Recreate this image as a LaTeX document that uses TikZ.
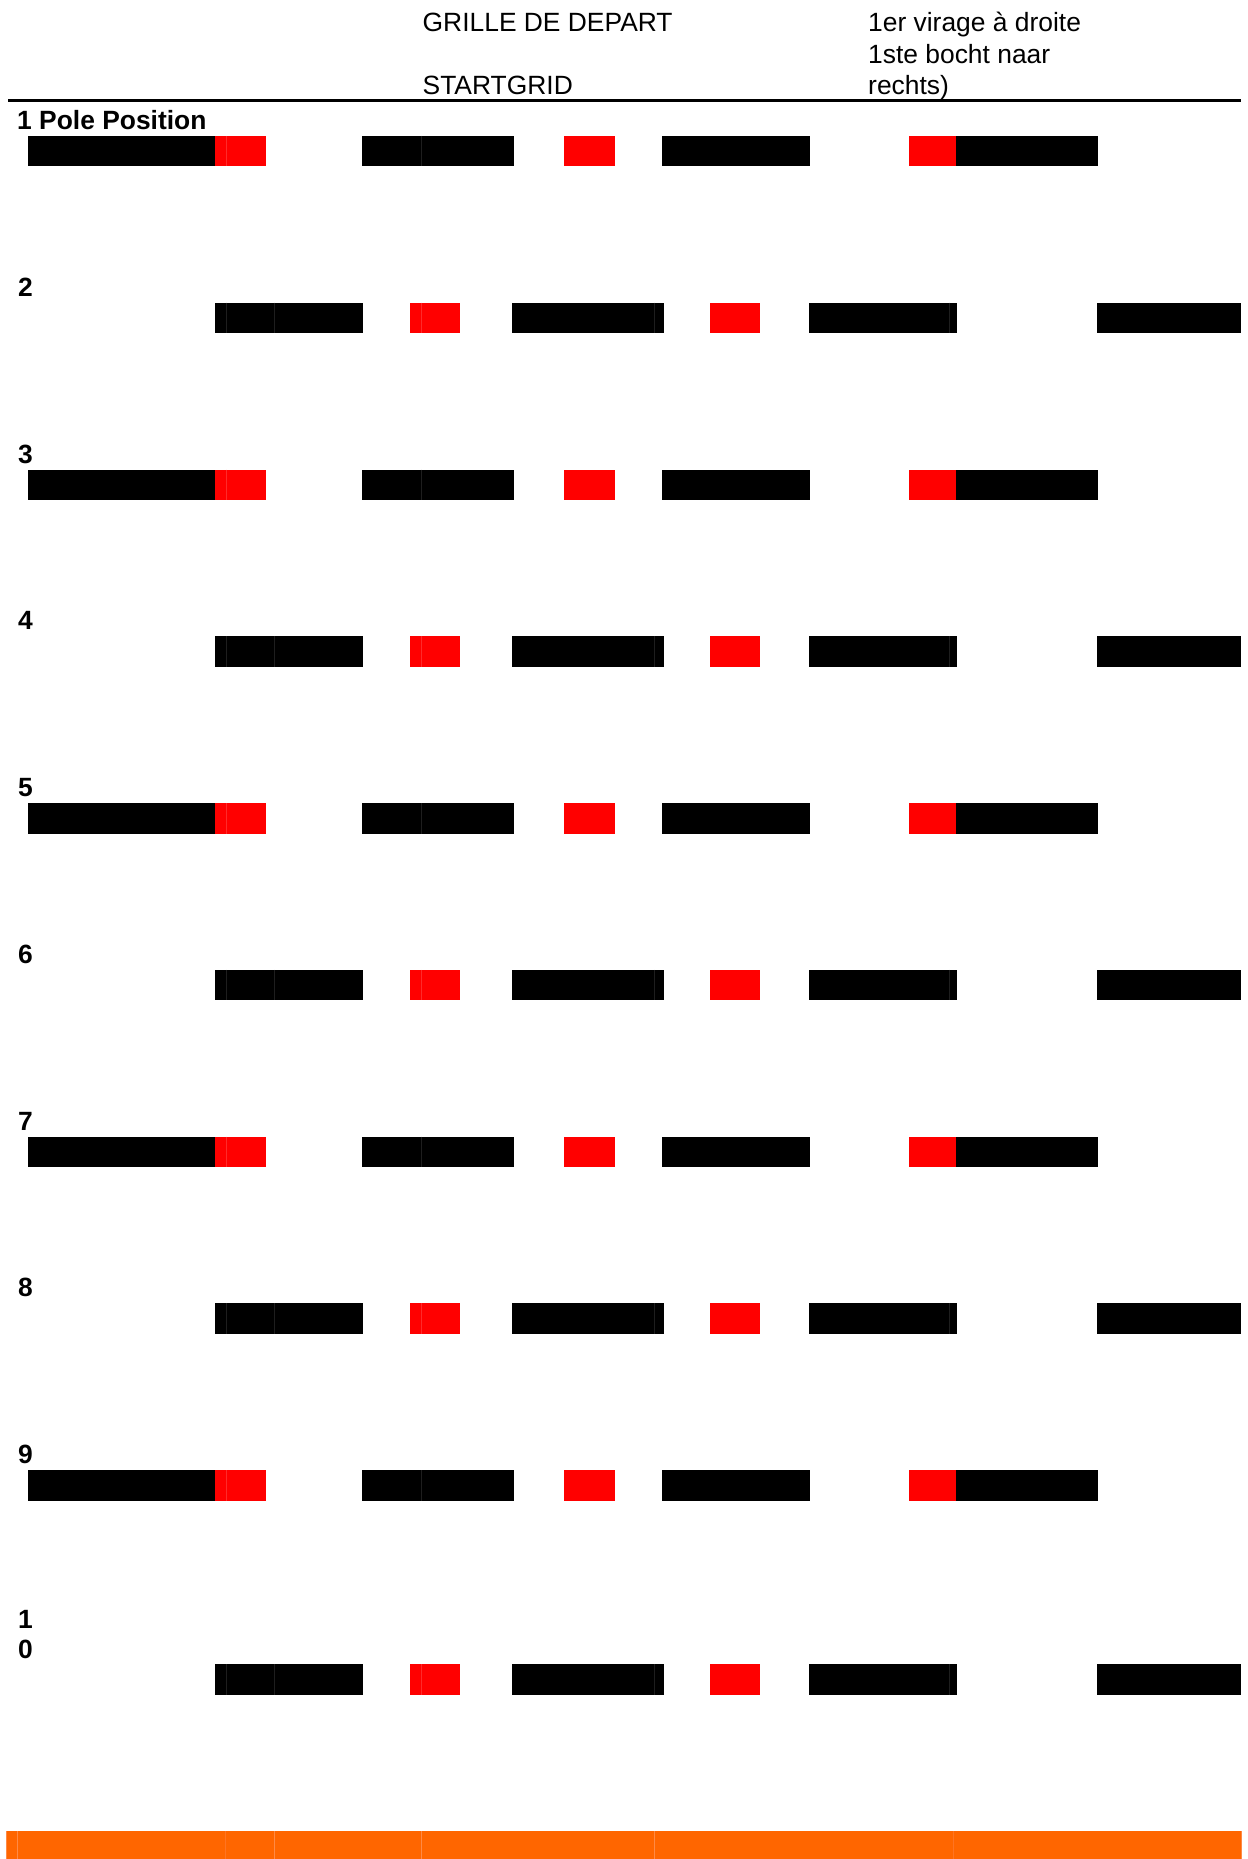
\documentclass[tikz,border=0pt]{standalone}
\usepackage{fontspec}
\setmainfont{Liberation Sans}
\definecolor{boxred}{HTML}{FF0000}
\definecolor{boxredline}{HTML}{FF2A2A}
\definecolor{boxseam}{HTML}{1E1E1E}
\definecolor{barorange}{HTML}{FF6600}
\definecolor{barseam}{HTML}{FF8A45}
\definecolor{barseamfaint}{HTML}{FF7422}
\begin{document}
\begin{tikzpicture}[x=1pt,y=-1pt,
  txt/.style={anchor=base west,inner sep=0pt,font=\fontsize{26.4}{31.5}\selectfont},
  lbl/.style={anchor=base west,inner sep=0pt,font=\fontsize{26.4}{31.5}\selectfont\bfseries},
  blk/.style={fill=black},
  rd/.style={fill=boxred},
  seamb/.style={draw=boxseam,line width=0.8pt},
  seamr/.style={draw=boxredline,line width=0.8pt},
  barseamst/.style={draw=barseam,line width=1pt},
  barseamfaintst/.style={draw=barseamfaint,line width=1pt}]
\useasboundingbox (0,0) rectangle (1247,1859);
% header
\node[txt] (h1) at (422.5,32) {GRILLE DE DEPART};
\node[txt] (h2) at (422.5,95) {STARTGRID};
\node[txt] (h3) at (868,32) {1er virage à droite};
\node[txt] (h4) at (868,63.5) {1ste bocht naar};
\node[txt] (h5) at (868,95) {rechts)};
\draw[line width=3pt] (8,100.5) -- (1241,100.5);
% odd rows
\foreach \t in {136,469.5,803,1136.5,1470}{
  \pgfmathsetmacro\bb{\t+30.5}
  \fill[blk] (28,\t) rectangle (215,\bb);
  \fill[rd] (215,\t) rectangle (266,\bb);
  \fill[blk] (362,\t) rectangle (514,\bb);
  \fill[rd] (564,\t) rectangle (615,\bb);
  \fill[blk] (662,\t) rectangle (810,\bb);
  \fill[rd] (909,\t) rectangle (955.5,\bb);
  \fill[blk] (955.5,\t) rectangle (1098,\bb);
  \draw[seamr] (226.5,\t) -- (226.5,\bb);
  \draw[seamb] (421,\t) -- (421,\bb);
}
% even rows
\foreach \t in {302.75,636.25,969.75,1303.25,1664}{
  \pgfmathsetmacro\bb{\t+30.5}
  \fill[blk] (215,\t) rectangle (363,\bb);
  \fill[rd] (410,\t) rectangle (460,\bb);
  \fill[blk] (512,\t) rectangle (664,\bb);
  \fill[rd] (710,\t) rectangle (760,\bb);
  \fill[blk] (808.5,\t) rectangle (957,\bb);
  \fill[blk] (1096.5,\t) rectangle (1241,\bb);
  \draw[seamb] (226,\t) -- (226,\bb);
  \draw[seamb] (274.5,\t) -- (274.5,\bb);
  \draw[seamr] (421,\t) -- (421,\bb);
  \draw[seamb] (654.5,\t) -- (654.5,\bb);
  \draw[seamb] (949,\t) -- (949,\bb);
}
% row labels
\node[lbl] (l1) at (17,129.5) {1 Pole Position};
\node[lbl] (l2) at (18,296.25) {2};
\node[lbl] (l3) at (18,463) {3};
\node[lbl] (l4) at (18,629.75) {4};
\node[lbl] (l5) at (18,796.5) {5};
\node[lbl] (l6) at (18,963.25) {6};
\node[lbl] (l7) at (18,1130) {7};
\node[lbl] (l8) at (18,1296.75) {8};
\node[lbl] (l9) at (18,1463.5) {9};
\node[lbl] (l10a) at (18,1628) {1};
\node[lbl] (l10b) at (18,1658) {0};
% bottom orange bar
\fill[barorange] (6,1831) rectangle (1242,1859);
\foreach \x in {6.5,17.3,274.3,421.3,654.3,1241.5}{
  \draw[barseamst] (\x,1831) -- (\x,1859);
}
\foreach \x in {225,953}{
  \draw[barseamfaintst] (\x,1831) -- (\x,1859);
}
\end{tikzpicture}
\end{document}
